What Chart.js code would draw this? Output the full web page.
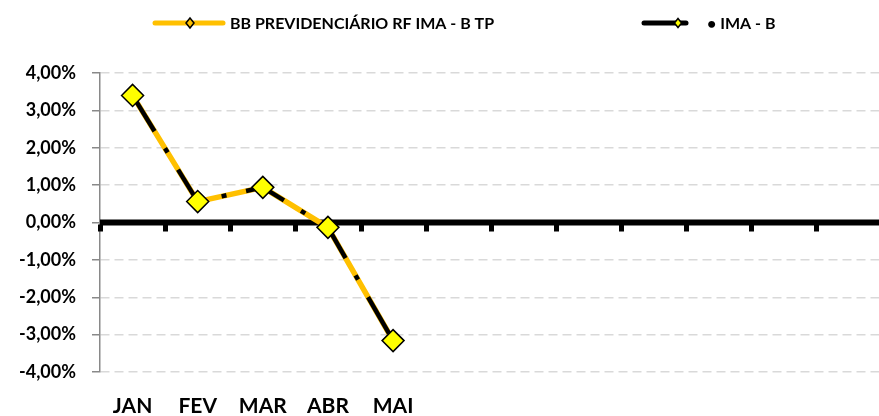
<!DOCTYPE html>
<html>
<head>
<meta charset="utf-8">
<script src="https://cdn.jsdelivr.net/npm/chart.js@4/dist/chart.umd.min.js"></script>
<style>
    html, body { margin: 0; padding: 0; background: #fff; overflow: hidden; }
    canvas { display: block; }
</style>
</head>
<body>
<canvas id="rentChart" width="894" height="416"></canvas>
<script>
const meses = ['JAN', 'FEV', 'MAR', 'ABR', 'MAI', '', '', '', '', '', '', ''];
const fundoNome = 'BB PREVIDENCIÁRIO RF IMA - B TP';
const fundoValores = [3.40, 0.56, 0.94, -0.13, -3.16, null, null, null, null, null, null, null];
const indiceNome = '• IMA - B';
const indiceValores = [3.40, 0.56, 0.94, -0.13, -3.16, null, null, null, null, null, null, null];
const yTicks = [4, 3, 2, 1, 0, -1, -2, -3, -4];

const OURO = '#FFC000';
const AMARELO = '#FFFF00';

document.addEventListener('DOMContentLoaded', function () {

    // linha do zero grossa + marcas das categorias
    const zeroLinePlugin = {
        id: 'zeroLinePlugin',
        beforeDatasetsDraw(chart) {
            const { ctx, chartArea, scales } = chart;
            const y0 = scales.y.getPixelForValue(0);
            const passo = (chartArea.right - chartArea.left) / meses.length;

            ctx.save();
            ctx.fillStyle = '#000';
            ctx.fillRect(chartArea.left, y0 - 3, chartArea.right - chartArea.left, 6);
            for (let i = 0; i <= meses.length; i++) {
                const x = chartArea.left + i * passo;
                ctx.fillRect(Math.round(x) - 2, y0 + 2, 5, 7);
            }
            ctx.restore();
        }
    };

    // legenda desenhada à mão (linha com marcador no meio)
    const legendaPlugin = {
        id: 'legendaPlugin',
        afterDraw(chart) {
            const ctx = chart.ctx;
            const y = 23;

            function diamante(cx, cy, r, fill) {
                ctx.beginPath();
                ctx.moveTo(cx, cy - r);
                ctx.lineTo(cx + r * 0.8, cy);
                ctx.lineTo(cx, cy + r);
                ctx.lineTo(cx - r * 0.8, cy);
                ctx.closePath();
                ctx.fillStyle = fill;
                ctx.fill();
                ctx.lineWidth = 1.5;
                ctx.strokeStyle = '#000';
                ctx.stroke();
            }

            ctx.save();
            ctx.lineCap = 'round';

            ctx.lineWidth = 5;
            ctx.strokeStyle = OURO;
            ctx.beginPath();
            ctx.moveTo(155, y);
            ctx.lineTo(223, y);
            ctx.stroke();
            diamante(190, y, 5, OURO);

            ctx.lineWidth = 5;
            ctx.strokeStyle = '#000';
            ctx.beginPath();
            ctx.moveTo(644, y);
            ctx.lineTo(686, y);
            ctx.stroke();
            diamante(678, y, 4.5, AMARELO);

            ctx.font = 'bold 16px Lato';
            ctx.fillStyle = '#000';
            ctx.textAlign = 'left';
            ctx.textBaseline = 'middle';
            ctx.fillText(fundoNome, 230, y + 1);
            ctx.fillText(indiceNome, 707, y + 1);
            ctx.restore();
        }
    };

    createChart();

    function createChart() {
        const ctx = document.getElementById('rentChart').getContext('2d');

        new Chart(ctx, {
            type: 'line',
            data: {
                labels: meses,
                datasets: [
                    {
                        label: fundoNome,
                        data: fundoValores,
                        borderColor: OURO,
                        borderWidth: 5.5,
                        borderJoinStyle: 'round',
                        pointRadius: 0,
                        order: 2
                    },
                    {
                        label: indiceNome,
                        data: indiceValores,
                        borderColor: '#000',
                        borderWidth: 4.5,
                        borderDash: [42, 20, 5, 20],
                        borderCapStyle: 'butt',
                        pointStyle: 'rectRot',
                        pointRadius: 11,
                        pointBackgroundColor: AMARELO,
                        pointBorderColor: '#000',
                        pointBorderWidth: 1.5,
                        order: 1
                    }
                ]
            },
            plugins: [zeroLinePlugin, legendaPlugin],
            options: {
                responsive: false,
                animation: false,
                layout: { padding: { top: 73, right: 1, bottom: 0, left: 0 } },
                plugins: {
                    legend: { display: false },
                    tooltip: { enabled: false }
                },
                scales: {
                    x: {
                        offset: true,
                        afterFit: scale => { scale.height = 44; },
                        grid: { display: false },
                        border: { display: false },
                        ticks: {
                            color: '#000',
                            font: { family: 'Lato', size: 21, weight: 'bold' },
                            padding: 14,
                            maxRotation: 0,
                            autoSkip: false
                        }
                    },
                    y: {
                        min: -4,
                        max: 4,
                        afterFit: scale => { scale.width = 100; },
                        afterBuildTicks: scale => {
                            scale.ticks = yTicks.map(v => ({ value: v }));
                        },
                        grid: {
                            color: '#D9D9D9',
                            lineWidth: 1.5,
                            tickColor: '#898989',
                            tickLength: 8,
                            tickWidth: 1.5
                        },
                        border: { color: '#898989', width: 1.5, dash: [9, 5] },
                        ticks: {
                            color: '#000',
                            padding: 16,
                            font: { family: 'Lato', size: 18, weight: 'bold' },
                            callback: value => value.toFixed(2).replace('.', ',') + '%'
                        }
                    }
                }
            }
        });
    }
});
</script>
</body>
</html>
